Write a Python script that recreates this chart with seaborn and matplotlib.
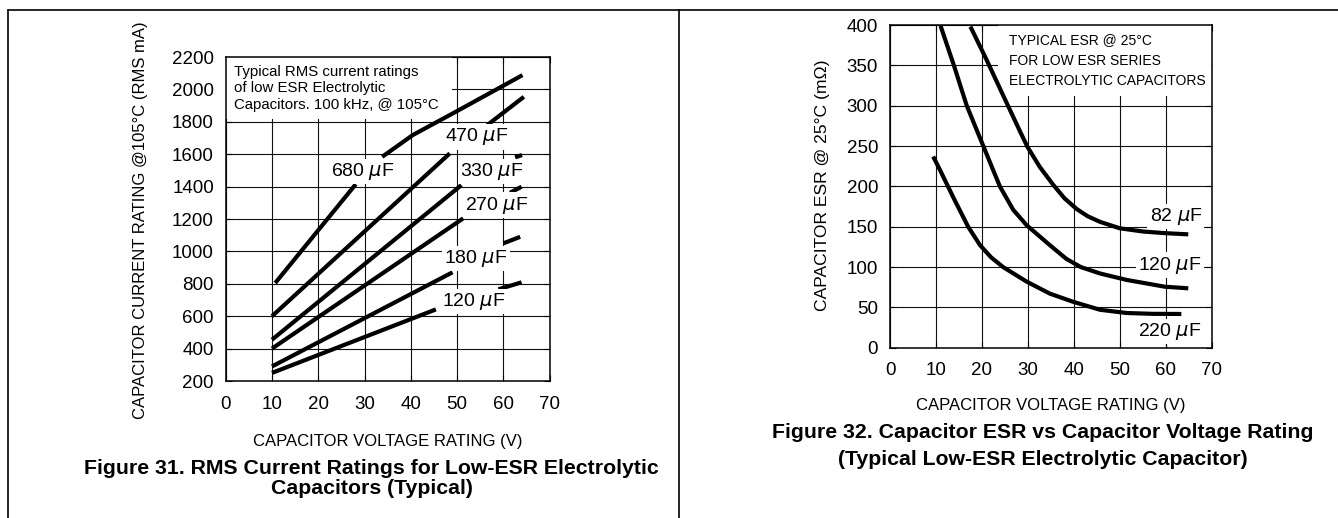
"""
Two datasheet charts: RMS current rating and ESR of low-ESR electrolytic capacitors.
"""
import matplotlib
matplotlib.use('Agg')
import matplotlib.pyplot as plt
import seaborn as sns
import numpy as np
import pandas as pd
from matplotlib.lines import Line2D
from matplotlib.patches import Rectangle

# Figure 31: RMS current (mA) vs voltage rating (V); NaN = gap where the label sits
v_680 = [10.7, 28.1, np.nan, 33.8, 40.4, 49.7, 64.1]
i_680 = [805, 1415, np.nan, 1584, 1718, 1862, 2088]
v_470 = [10, 48.4, np.nan, 56.5, 64.4]
i_470 = [600, 1605, np.nan, 1780, 1954]
v_330 = [10, 50.9, np.nan, 62.5, 64]
i_330 = [455, 1409, np.nan, 1580, 1595]
v_270 = [10, 51.3, np.nan, 61.4, 63.9]
i_270 = [400, 1204, np.nan, 1362, 1399]
v_180 = [10, 49, np.nan, 60, 63.6]
i_180 = [290, 871, np.nan, 1050, 1090]
v_120 = [10, 45.4, np.nan, 58.9, 63.9]
i_120 = [250, 642, np.nan, 766, 809]
rms_names = ['680', '470', '330', '270', '180', '120']

# Figure 32: ESR (mOhm) vs voltage rating (V)
esr_v_82 = [17.5, 21, 24.6, 28.3, 29.9, 32.6, 35.5, 38, 40.6, 43, 45.7, 50, 55.1, 59.8, 64.9]
esr_82 = [398, 357, 313, 268, 249, 224, 202, 185, 172, 163, 156, 148, 144, 142, 140.5]
esr_v_120 = [11, 13.9, 16.7, 20.3, 23.9, 26.8, 29.7, 34.8, 38.4, 41.5, 45.7, 51.5, 59.8, 64.9]
esr_120 = [399, 350, 300, 250, 200, 171, 152, 127, 110, 100, 92, 84, 75.6, 73.6]
esr_v_220 = [9.4, 10.9, 13.8, 17, 19.6, 22, 24.6, 29.7, 34.8, 39.8, 45.7, 51.5, 57, 63.4]
esr_220 = [237, 220, 186, 150, 127, 112, 100, 82, 67, 57, 47, 43, 42, 41.8]

rms_note = ['Typical RMS current ratings', 'of low ESR Electrolytic',
            'Capacitors. 100 kHz, @ 105°C']
esr_note = ['TYPICAL ESR @ 25°C', 'FOR LOW ESR SERIES', 'ELECTROLYTIC CAPACITORS']

sns.set_style('ticks')
plt.rcParams['font.family'] = ['Liberation Sans', 'DejaVu Sans']
plt.rcParams.update({
    'axes.linewidth': 1.1,
    'axes.edgecolor': 'black',
    'xtick.direction': 'in',
    'ytick.direction': 'in',
    'xtick.top': True,
    'ytick.right': True,
    'xtick.major.size': 4,
    'ytick.major.size': 4,
    'xtick.color': 'black',
    'ytick.color': 'black',
    'text.color': 'black',
    'axes.labelcolor': 'black',
})


def _to_frame(curves):
    """Build a long table; every NaN break starts a new segment."""
    rows = []
    for name, xs, ys in curves:
        seg = 0
        for x, y in zip(xs, ys):
            if np.isnan(x):
                seg += 1
                continue
            rows.append({'V': x, 'Y': y, 'seg': f'{name}_{seg}'})
    return pd.DataFrame(rows)


def _style_axes(ax, yticks, xpad, ypad):
    ax.set_xlim(0, 70)
    ax.set_xticks(range(0, 71, 10))
    ax.set_yticks(yticks)
    ax.grid(True, color='#111111', linewidth=0.8)
    ax.tick_params(axis='x', labelsize=13.5, pad=xpad, width=0.8)
    ax.tick_params(axis='y', labelsize=13.5, pad=ypad, width=0.8)
    ax.set_axisbelow(True)


def _label(ax, x, y, txt):
    ax.text(x, y, txt + r' $\mu$F', ha='center', va='center', fontsize=14, zorder=4,
            bbox=dict(facecolor='white', edgecolor='none', pad=1.5))


def _curves(ax, df):
    sns.lineplot(data=df, x='V', y='Y', units='seg', estimator=None, sort=False,
                 color='black', linewidth=3, solid_capstyle='butt', ax=ax, legend=False)


def plot_rms(ax):
    df = _to_frame([('680', v_680, i_680), ('470', v_470, i_470),
                    ('330', v_330, i_330), ('270', v_270, i_270),
                    ('180', v_180, i_180), ('120', v_120, i_120)])
    _curves(ax, df)
    _style_axes(ax, range(200, 2201, 200), 11, 8.5)
    ax.set_ylim(200, 2200)

    # white panel behind the note hides the grid
    ax.add_patch(Rectangle((0, 1817), 48.9, 383, facecolor='white', edgecolor='none', zorder=1))
    for k, line in enumerate(rms_note):
        ax.text(1.8, 2108 - k * 102, line, va='center', ha='left', fontsize=10.8, zorder=4)

    for (x, y), name in zip([(29.5, 1491), (54.3, 1707), (57.5, 1491),
                             (58.6, 1286), (54.1, 957), (53.5, 689)], rms_names):
        _label(ax, x, y, name)

    ax.set_xlabel('CAPACITOR VOLTAGE RATING (V)', fontsize=12)
    ax.set_ylabel('CAPACITOR CURRENT RATING @105°C (RMS mA)', fontsize=12)
    ax.xaxis.set_label_coords(0.5, -0.188)
    ax.xaxis.label.set_va('center')
    ax.yaxis.set_label_coords(-0.264, 0.495)
    ax.yaxis.label.set_va('center')


def plot_esr(ax):
    df = _to_frame([('82', esr_v_82, esr_82), ('120', esr_v_120, esr_120),
                    ('220', esr_v_220, esr_220)])
    _curves(ax, df)
    _style_axes(ax, range(0, 401, 50), 10.5, 8.5)
    ax.set_ylim(0, 400)

    ax.add_patch(Rectangle((23.5, 312), 46.5, 88, facecolor='white', edgecolor='none', zorder=1))
    for k, line in enumerate(esr_note):
        ax.text(25.9, 381.4 - k * 25.5, line, va='center', ha='left', fontsize=10, zorder=4)

    for (x, y), name in zip([(62.2, 162.4), (60.9, 102.5), (60.9, 19.8)], ['82', '120', '220']):
        _label(ax, x, y, name)

    ax.set_xlabel('CAPACITOR VOLTAGE RATING (V)', fontsize=12)
    ax.set_ylabel('CAPACITOR ESR @ 25°C (mΩ)', fontsize=12.6)
    ax.xaxis.set_label_coords(0.5, -0.178)
    ax.xaxis.label.set_va('center')
    ax.yaxis.set_label_coords(-0.211, 0.504)
    ax.yaxis.label.set_va('center')


W, H = 1338, 518
fig = plt.figure(figsize=(W / 100, H / 100), dpi=100)
ax1 = fig.add_axes([225.7 / W, (H - 381) / H, 324.1 / W, 324 / H])
ax2 = fig.add_axes([890 / W, (H - 347.7) / H, 321.7 / W, 322.7 / H])
plot_rms(ax1)
plot_esr(ax2)

# page frame of the datasheet table
for xs, ys in [([8, W], [10, 10]), ([8, 8], [10, H]), ([679, 679], [10, H])]:
    fig.add_artist(Line2D([x / W for x in xs], [1 - y / H for y in ys],
                          color='black', linewidth=1.2, transform=fig.transFigure))

cap = dict(ha='center', va='center', fontsize=15.3, fontweight='bold')
fig.text(371.5 / W, 1 - 468 / H, 'Figure 31. RMS Current Ratings for Low-ESR Electrolytic', **cap)
fig.text(371.5 / W, 1 - 488 / H, 'Capacitors (Typical)', **cap)
fig.text(1043 / W, 1 - 432.7 / H, 'Figure 32. Capacitor ESR vs Capacitor Voltage Rating', **cap)
fig.text(1043 / W, 1 - 459.3 / H, '(Typical Low-ESR Electrolytic Capacitor)', **cap)

fig.savefig('out.png', dpi=100)
plt.close(fig)
